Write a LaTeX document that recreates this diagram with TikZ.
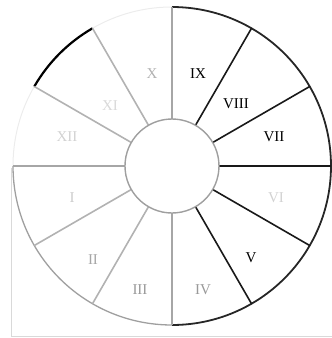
\documentclass[tikz,border=0pt]{standalone}
\usepackage{fontspec}
\setmainfont{Liberation Serif}
\usetikzlibrary{positioning}

\tikzset{
  num/.style={font=\fontsize{15}{17}\selectfont,inner sep=1pt},
  spoke/.style={line width=1.6pt},
}

\begin{document}
\begin{tikzpicture}[x=1pt,y=1pt]
  \useasboundingbox (-172,-172) rectangle (160,166);
  % faint frame of the scan
  \draw[gray!30,line width=1pt] (-160,-2)--(-160,-170)--(160,-170);
  % outer rim
  \draw[gray!15,line width=1pt] (180:159) arc[start angle=180,end angle=90,radius=159];
  \draw[black!85,line width=1.8pt] (90:159) arc[start angle=90,end angle=-90,radius=159];
  \draw[gray!75,line width=1.3pt] (180:159) arc[start angle=180,end angle=270,radius=159];
  \draw[black,line width=2.2pt] (150:159) arc[start angle=150,end angle=120,radius=159];
  % spokes
  \foreach \a in {60,30,0,-30,-60}
    \draw[spoke,black!90] (\a:47)--(\a:159);
  \foreach \a in {90,-90,180}
    \draw[spoke,gray!70] (\a:47)--(\a:159);
  \foreach \a in {-120,-150,150,120}
    \draw[spoke,gray!60] (\a:47)--(\a:159);
  % hub
  \draw[gray!75,line width=1.4pt,fill=white] (0,0) circle (47);
  % hours
  \node[num,gray!60] (x) at (-20,92) {X};
  \node[num,gray!30] (xi) at (-62,60) {XI};
  \node[num,gray!35] (xii) at (-105,29) {XII};
  \node[num] (ix) at (26,92) {IX};
  \node[num] (viii) at (64,62) {VIII};
  \node[num] (vii) at (102,29) {VII};
  \node[num,gray!35] (vi) at (104,-32) {VI};
  \node[num] (v) at (79,-92) {V};
  \node[num,gray!80] (iv) at (31,-124) {IV};
  \node[num,gray!80] (iii) at (-32,-124) {III};
  \node[num,gray!70] (ii) at (-79,-94) {II};
  \node[num,gray!40] (i) at (-100,-32) {I};
\end{tikzpicture}
\end{document}
